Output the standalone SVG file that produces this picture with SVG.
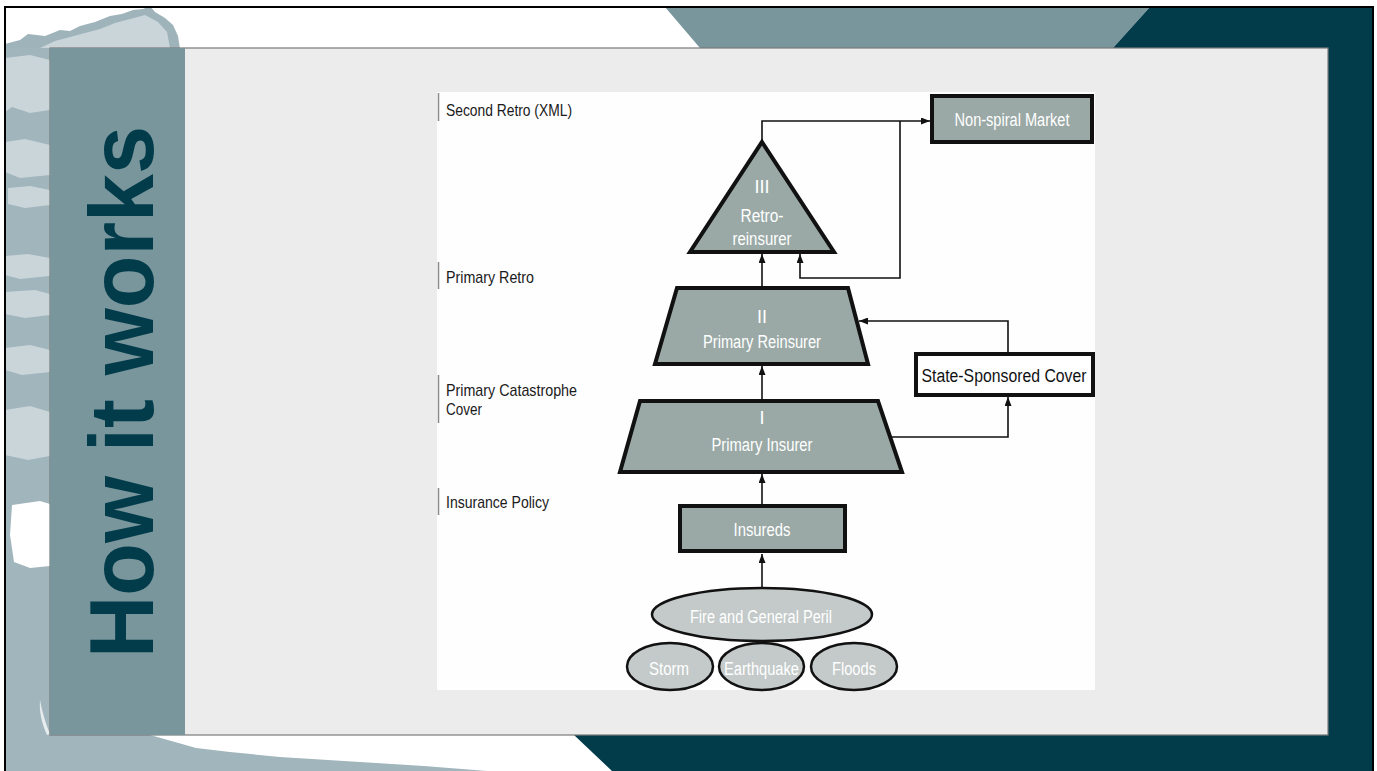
<svg xmlns="http://www.w3.org/2000/svg" width="1377" height="771" viewBox="0 0 1377 771">
<defs>
<style>
.lbl{font-family:"Liberation Sans",Arial,sans-serif;font-size:17px;fill:#1a1a1a}
.nt{font-family:"Liberation Sans",Arial,sans-serif;font-size:18px;fill:#ffffff;text-anchor:middle}
.nd{fill:#9aa9a6;stroke:#111;stroke-width:4;stroke-linejoin:miter}
.el{fill:#c3cac9;stroke:#111;stroke-width:2.5}
.cn{fill:none;stroke:#111;stroke-width:1.6}
.br{fill:none;stroke:#8a8a8a;stroke-width:1.5}
.lt{fill:#c9d5d9}
</style>
<linearGradient id="fade" x1="0" y1="0" x2="1" y2="0">
<stop offset="0" stop-color="#8a8a8a"/>
<stop offset="1" stop-color="#8a8a8a" stop-opacity="0"/>
</linearGradient>
<marker id="ah" viewBox="0 0 9 7" refX="9" refY="3.5" markerWidth="9" markerHeight="7" markerUnits="userSpaceOnUse" orient="auto">
<path d="M0,0 L9,3.5 L0,7 z" fill="#111"/>
</marker>
</defs>

<g id="background">
<rect x="0" y="0" width="1377" height="771" fill="#ffffff"/>
<path d="M5,44 L20,40 L28,34 L45,36 L60,30 L70,31 L80,26 L95,22 L110,16 L122,14 L133,10 L143,9 L150,6 L155,12 L165,18 L173,25 L178,36 L180,49 L5,49 Z" fill="#9fb3ba"/>
<path class="lt" d="M40,48 L55,41 L70,37 L85,33 L100,29 L115,23 L130,19 L145,15 L158,22 L167,32 L170,48 Z"/>
<rect x="5" y="48" width="45" height="687" fill="#a1b5bc"/>
<path class="lt" d="M5,58 L30,55 L50,60 L50,110 L30,113 L12,107 L5,112 Z"/>
<path class="lt" d="M5,142 L25,139 L50,145 L50,175 L20,178 L5,172 Z"/>
<path class="lt" d="M8,188 L30,186 L50,190 L50,205 L25,208 L8,204 Z"/>
<path class="lt" d="M5,256 L28,254 L50,258 L50,276 L20,279 L5,275 Z"/>
<path class="lt" d="M5,292 L35,290 L50,294 L50,315 L25,318 L5,314 Z"/>
<path class="lt" d="M5,348 L30,345 L50,350 L50,372 L22,375 L5,370 Z"/>
<path class="lt" d="M5,410 L30,406 L50,412 L50,456 L28,460 L5,455 Z"/>
<path d="M12,505 L40,501 L50,504 L50,566 L30,568 L14,562 L10,535 Z" fill="#ffffff"/>
<path d="M40,700 C42,712 46,724 50,734 L47,735 C42,724 39,712 40,700 Z" fill="#e6ecee"/>
<path d="M5,735 L150,735 L175,742 L196,748 L230,752 L280,757 L424,766 L487,771 L5,771 Z" fill="#a1b5bc"/>
<polygon points="665,7 1150,7 1113,48 700,48" fill="#79969d"/>
<polygon points="1150,7 1373,7 1373,771 612,771 574,735 1328,735 1328,48 1113,48" fill="#023b4a"/>
<path d="M5,771 L5,7 L1373,7 L1373,771" fill="none" stroke="#000" stroke-width="2"/>
</g>

<g id="panel">
<rect x="50" y="48" width="1278" height="687" fill="#ececec" stroke="#7a7a7a" stroke-width="1.2"/>
<rect x="50" y="48" width="135" height="687" fill="#79969d"/>
<text transform="translate(153,658) rotate(-90)" font-family="Liberation Sans, Arial, sans-serif" font-weight="bold" font-size="90" fill="#023b4a" textLength="532" lengthAdjust="spacingAndGlyphs">How it works</text>
<rect x="437" y="92" width="658" height="598" fill="#fefefe"/>
</g>

<g id="levels">
<path class="br" d="M438.5,121 V93"/><path d="M438,93.5 H612" stroke="url(#fade)" stroke-width="1.5"/>
<text class="lbl" x="446" y="116" textLength="126" lengthAdjust="spacingAndGlyphs">Second Retro (XML)</text>
<path class="br" d="M438.5,289 V262"/><path d="M438,262.5 H612" stroke="url(#fade)" stroke-width="1.5"/>
<text class="lbl" x="446" y="283" textLength="88" lengthAdjust="spacingAndGlyphs">Primary Retro</text>
<path class="br" d="M438.5,423 V375"/><path d="M438,375.5 H612" stroke="url(#fade)" stroke-width="1.5"/>
<text class="lbl" x="446" y="396" textLength="131" lengthAdjust="spacingAndGlyphs">Primary Catastrophe</text>
<text class="lbl" x="446" y="415" textLength="36" lengthAdjust="spacingAndGlyphs">Cover</text>
<path class="br" d="M438.5,515 V488"/><path d="M438,488.5 H612" stroke="url(#fade)" stroke-width="1.5"/>
<text class="lbl" x="446" y="508" textLength="103" lengthAdjust="spacingAndGlyphs">Insurance Policy</text>
</g>

<g id="connectors">
<path class="cn" d="M762,588 V554" marker-end="url(#ah)"/>
<path class="cn" d="M762,506 V474" marker-end="url(#ah)"/>
<path class="cn" d="M762,401 V366" marker-end="url(#ah)"/>
<path class="cn" d="M762,288 V254" marker-end="url(#ah)"/>
<path class="cn" d="M762,142 V121 H930" marker-end="url(#ah)"/>
<path class="cn" d="M900,121 V278 H800 V254" marker-end="url(#ah)"/>
<path class="cn" d="M890,437 H1008 V397" marker-end="url(#ah)"/>
<path class="cn" d="M1008,353 V321 H859" marker-end="url(#ah)"/>
</g>

<g id="node-nonspiral">
<rect class="nd" x="932" y="96" width="160" height="46"/>
<text class="nt" x="1012" y="126" textLength="115" lengthAdjust="spacingAndGlyphs">Non-spiral Market</text>
</g>

<g id="node-retro">
<polygon class="nd" points="762,142 834,252 690,252"/>
<text class="nt" x="762" y="193">III</text>
<text class="nt" x="762" y="222" textLength="43" lengthAdjust="spacingAndGlyphs">Retro-</text>
<text class="nt" x="762" y="245" textLength="59" lengthAdjust="spacingAndGlyphs">reinsurer</text>
</g>

<g id="node-reinsurer">
<polygon class="nd" points="677,288 848,288 868,364 655,364"/>
<text class="nt" x="762" y="323">II</text>
<text class="nt" x="762" y="348" textLength="118" lengthAdjust="spacingAndGlyphs">Primary Reinsurer</text>
</g>

<g id="node-state">
<rect x="916" y="354" width="177" height="41" fill="#ffffff" stroke="#111" stroke-width="4"/>
<text x="1004" y="382" font-family="Liberation Sans, Arial, sans-serif" font-size="18" fill="#111" text-anchor="middle" textLength="165" lengthAdjust="spacingAndGlyphs">State-Sponsored Cover</text>
</g>

<g id="node-insurer">
<polygon class="nd" points="640,401 878,401 902,472 620,472"/>
<text class="nt" x="762" y="424">I</text>
<text class="nt" x="762" y="451" textLength="101" lengthAdjust="spacingAndGlyphs">Primary Insurer</text>
</g>

<g id="node-insureds">
<rect class="nd" x="680" y="506" width="165" height="45"/>
<text class="nt" x="762" y="536" textLength="57" lengthAdjust="spacingAndGlyphs">Insureds</text>
</g>

<g id="node-fire">
<ellipse class="el" cx="762" cy="614.5" rx="110" ry="26.5"/>
<text class="nt" x="761" y="623" textLength="142" lengthAdjust="spacingAndGlyphs">Fire and General Peril</text>
</g>

<g id="node-storm">
<ellipse class="el" cx="670" cy="666.5" rx="43" ry="23.5"/>
<text class="nt" x="669" y="675" textLength="40" lengthAdjust="spacingAndGlyphs">Storm</text>
</g>

<g id="node-earthquake">
<ellipse class="el" cx="761.5" cy="666.5" rx="42.5" ry="23.5"/>
<text class="nt" x="761.5" y="675" textLength="75" lengthAdjust="spacingAndGlyphs">Earthquake</text>
</g>

<g id="node-floods">
<ellipse class="el" cx="854" cy="666.5" rx="43" ry="23.5"/>
<text class="nt" x="854" y="675" textLength="44" lengthAdjust="spacingAndGlyphs">Floods</text>
</g>
</svg>
